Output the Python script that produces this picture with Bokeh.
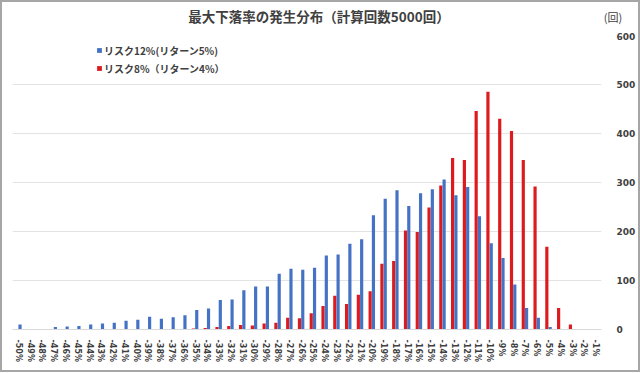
import math
from bokeh.plotting import figure
from bokeh.layouts import column
from bokeh.models import (ColumnDataSource, FactorRange, Range1d, Legend, LegendItem,
                          Div, SingleIntervalTicker)
from bokeh.transform import dodge
from bokeh.embed import file_html
from bokeh.resources import INLINE

categories = [f"-{i}%" for i in range(50, 0, -1)]
risk12 = [10, 1, 1, 5, 6, 7, 10, 12, 14, 18,
          20, 26, 22, 25, 29, 40, 43, 60, 61, 80,
          88, 88, 114, 124, 122, 126, 151, 153, 175, 184,
          233, 267, 284, 252, 278, 286, 306, 274, 291, 231,
          176, 146, 92, 44, 24, 5, 1, 0, 1, 0]
risk8 = [0, 0, 0, 0, 0, 0, 1, 0, 0, 0,
         0, 1, 1, 1, 1, 2, 3, 5, 7, 9,
         8, 12, 14, 24, 23, 33, 48, 69, 52, 71,
         78, 134, 140, 202, 199, 249, 294, 350, 346, 446,
         485, 430, 405, 346, 292, 169, 44, 10, 1, 0]
y_ticks = [0, 100, 200, 300, 400, 500, 600]
title_text = "最大下落率の発生分布（計算回数5000回）"
unit_text = "(回)"
label12 = "リスク12%(リターン5%)"
label8 = "リスク8%（リターン4%）"

BLUE = "#4472C4"
RED = "#DD1A1E"
TXT = "#404040"

# ---- title strip ----
span = ("position:absolute;top:15px;transform:translate(-50%,-50%);"
        "white-space:nowrap;line-height:1;")
title_html = (
    "<div style=\"position:relative;width:636px;height:30px;"
    "font-family:'Noto Sans CJK JP';color:" + TXT + ";\">"
    "<span style=\"" + span + "left:317px;font-size:13.5px;font-weight:bold;\">"
    + title_text + "</span>"
    "<span style=\"" + span + "left:611px;font-size:11px;\">"
    + unit_text + "</span></div>"
)
t = Div(text=title_html, width=636, height=30, margin=0)

# ---- main chart ----
src = ColumnDataSource(dict(cat=categories, b=risk12, r=risk8))

p = figure(width=636, height=338, output_backend="svg", toolbar_location=None,
           x_range=FactorRange(factors=categories, range_padding=0),
           y_range=Range1d(0, 600), y_axis_location="right",
           min_border_left=10, min_border_right=30, min_border_top=3,
           min_border_bottom=41)
p.outline_line_color = None

rr = p.vbar(x=dodge("cat", -0.14, range=p.x_range), top="r", width=0.27,
            source=src, fill_color=RED, line_color=None)
rb = p.vbar(x=dodge("cat", 0.14, range=p.x_range), top="b", width=0.27,
            source=src, fill_color=BLUE, line_color=None)

p.xgrid.grid_line_color = None
p.ygrid.grid_line_color = "#e3e3e3"
p.ygrid.ticker = SingleIntervalTicker(interval=100)

p.yaxis.ticker = y_ticks
p.yaxis.axis_line_color = None
p.yaxis.major_tick_line_color = None
p.yaxis.minor_tick_line_color = None
p.yaxis.major_label_standoff = 9
p.yaxis.major_label_text_font = "DejaVu Sans"
p.yaxis.major_label_text_font_style = "bold"
p.yaxis.major_label_text_font_size = "9px"
p.yaxis.major_label_text_color = TXT

p.xaxis.axis_line_color = "#d9d9d9"
p.xaxis.major_tick_line_color = None
p.xaxis.minor_tick_line_color = None
p.xaxis.major_label_orientation = -math.pi / 2
p.xaxis.major_label_standoff = 4
p.xaxis.major_label_text_font = "DejaVu Sans"
p.xaxis.major_label_text_font_style = "bold"
p.xaxis.major_label_text_font_size = "8px"
p.xaxis.major_label_text_color = TXT

legend = Legend(items=[LegendItem(label=label12, renderers=[rb]),
                       LegendItem(label=label8, renderers=[rr])],
                location=(84, 252), orientation="vertical",
                label_text_font="Noto Sans CJK JP", label_text_font_style="bold",
                label_text_font_size="10px", label_text_color=TXT,
                glyph_width=6, glyph_height=6, label_height=18, label_standoff=2,
                spacing=0, padding=0, margin=0,
                border_line_color=None, background_fill_alpha=0)
p.add_layout(legend, "center")

page = column(t, p, spacing=0,
              styles={"border": "2px solid #a6a6a6", "background-color": "white"})

open("out.html", "w").write(file_html(page, INLINE))
